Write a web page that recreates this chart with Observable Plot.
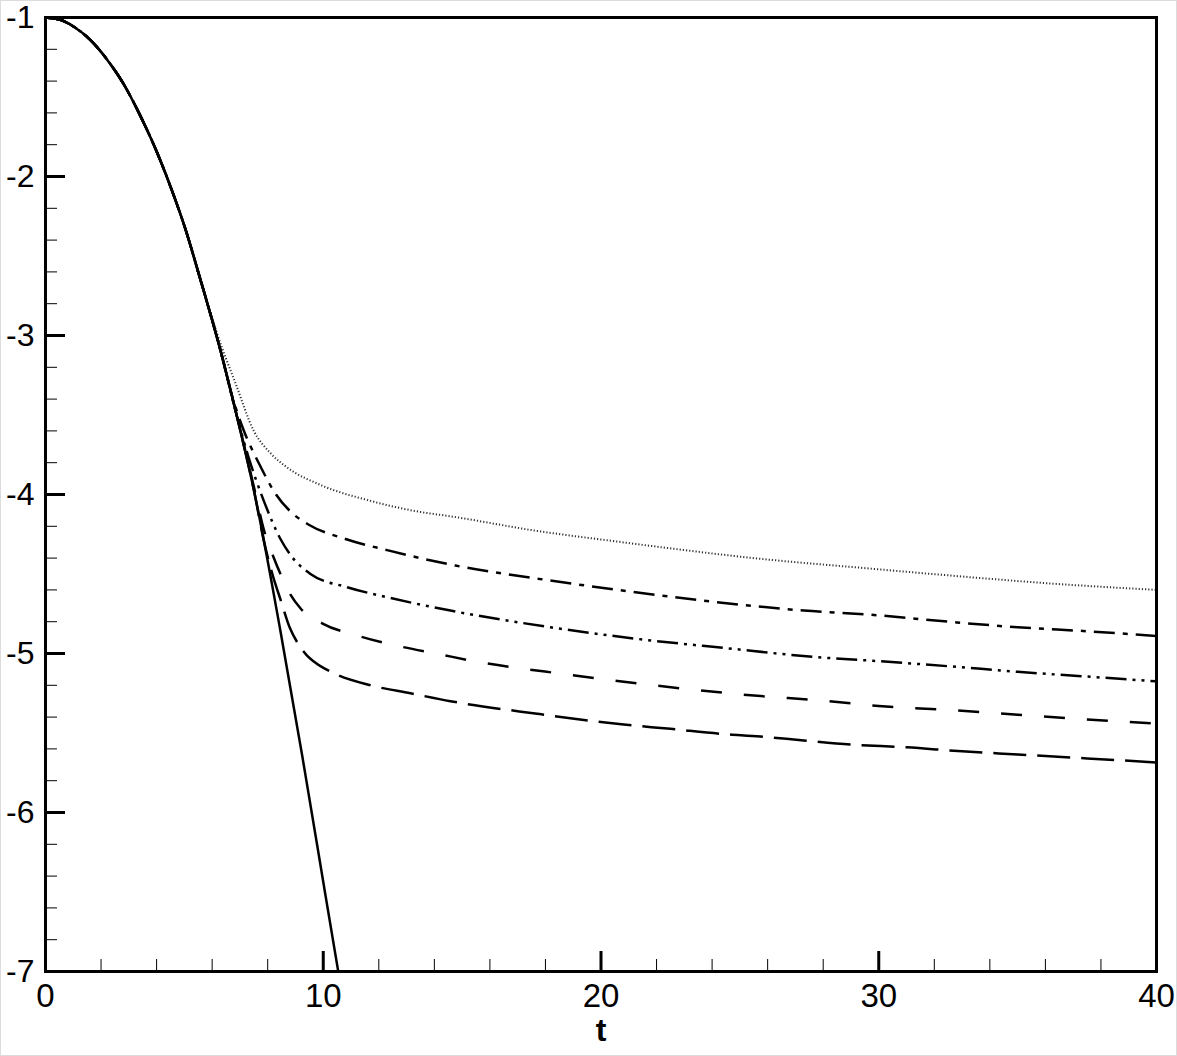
<!DOCTYPE html>
<html>
<head>
<meta charset="utf-8">
<script src="https://cdn.jsdelivr.net/npm/d3@7"></script>
<script src="https://cdn.jsdelivr.net/npm/@observablehq/plot@0.6"></script>
<style>
  html, body { margin: 0; padding: 0; background: #fff; }
  #chart { position: absolute; left: 0; top: 0; }
  #edge { position: absolute; left: 0; top: 0; width: 1175px; height: 1054px; border: 1px solid #dcdcdc; pointer-events: none; }
</style>
</head>
<body>
<div id="chart"></div>
<div id="edge"></div>
<script>
// ---- data ----
const tSolid = [0,0.5,1.02,1.62,2.22,2.82,3.42,4.02,4.62,5.0,5.58,6.3,6.9,7.5,8.46,9.24,10.08,10.54];
const vSolid = [-1,-1.013,-1.058,-1.142,-1.265,-1.42,-1.62,-1.85,-2.12,-2.31,-2.65,-3.094,-3.514,-3.97,-4.86,-5.64,-6.52,-7.0];

const tDotted = [0,0.5,1.02,1.62,2.22,2.82,3.42,4.02,4.62,5.0,5.58,6.2,6.84,7.5,8.1,8.7,9.9,11.7,13.5,14.58,17.58,20.58,22.14,25.38,29.63,32.6,36.2,40];
const vDotted = [-1,-1.013,-1.058,-1.142,-1.265,-1.42,-1.62,-1.85,-2.12,-2.31,-2.645,-3.0,-3.30,-3.60,-3.74,-3.83,-3.94,-4.04,-4.11,-4.137,-4.226,-4.296,-4.331,-4.398,-4.465,-4.51,-4.56,-4.60];

const tDashDot = [0,0.5,1.02,1.62,2.22,2.82,3.42,4.02,4.62,5.0,5.58,6.3,6.75,7.1,7.7,8.3,8.9,9.48,10.8,12.3,14.76,18.18,20.94,24.18,27.3,29.63,32.5,35,37.5,40];
const vDashDot = [-1,-1.013,-1.058,-1.142,-1.265,-1.42,-1.62,-1.85,-2.12,-2.31,-2.65,-3.094,-3.40,-3.58,-3.81,-4.0,-4.12,-4.19,-4.28,-4.35,-4.447,-4.541,-4.608,-4.677,-4.73,-4.755,-4.80,-4.835,-4.86,-4.89];

const tDashDotDot = [0,0.5,1.02,1.62,2.22,2.82,3.42,4.02,4.62,5.0,5.58,6.3,6.9,7.3,7.86,8.46,8.82,9.54,10.86,12.3,14.58,18.18,21.3,24.54,27.78,29.63,32.5,35,37.5,40];
const vDashDotDot = [-1,-1.013,-1.058,-1.142,-1.265,-1.42,-1.62,-1.85,-2.12,-2.31,-2.65,-3.094,-3.514,-3.76,-4.04,-4.28,-4.38,-4.50,-4.583,-4.646,-4.73,-4.835,-4.908,-4.967,-5.023,-5.044,-5.08,-5.115,-5.145,-5.175];

const tDashed = [0,0.5,1.02,1.62,2.22,2.82,3.42,4.02,4.62,5.0,5.58,6.3,6.9,7.5,7.86,8.2,8.46,8.82,9.2,9.96,11.28,12.78,14.22,15.3,18.78,21.89,25.08,28.32,30,32.5,35,37.5,40];
const vDashed = [-1,-1.013,-1.058,-1.142,-1.265,-1.42,-1.62,-1.85,-2.12,-2.31,-2.65,-3.094,-3.514,-3.95,-4.22,-4.39,-4.50,-4.63,-4.72,-4.81,-4.89,-4.956,-5.006,-5.044,-5.132,-5.20,-5.258,-5.302,-5.33,-5.355,-5.385,-5.415,-5.44];

const tLongDash = [0,0.5,1.02,1.62,2.22,2.82,3.42,4.02,4.62,5.0,5.58,6.3,6.9,7.5,7.86,8.2,8.46,8.8,9.1,9.4,9.66,10.38,11.7,13.14,14.58,17.7,20.82,22.5,24.3,25.74,27.3,28.98,31,33,35,37.5,40];
const vLongDash = [-1,-1.013,-1.058,-1.142,-1.265,-1.42,-1.62,-1.85,-2.12,-2.31,-2.65,-3.094,-3.514,-3.97,-4.29,-4.52,-4.66,-4.84,-4.94,-5.01,-5.05,-5.124,-5.20,-5.25,-5.30,-5.379,-5.447,-5.474,-5.505,-5.522,-5.547,-5.572,-5.59,-5.615,-5.635,-5.66,-5.685];

const xMajor = [0,10,20,30,40];
const xMinor = [2,4,6,8,12,14,16,18,22,24,26,28,32,34,36,38];
const yMajor = [-1,-2,-3,-4,-5,-6,-7];
const yMinor = [-1.2,-1.4,-1.6,-1.8,-2.2,-2.4,-2.6,-2.8,-3.2,-3.4,-3.6,-3.8,-4.2,-4.4,-4.6,-4.8,-5.2,-5.4,-5.6,-5.8,-6.2,-6.4,-6.6,-6.8];
const xTitle = "t";

// ---- build ----
const zip = (ts, vs) => ts.map((t, i) => ({t, v: vs[i]}));
const W = 1177, H = 1056;
const mL = 45, mR = 21, mT = 17, mB = 85;
const innerW = W - mL - mR, innerH = H - mT - mB;
const font = "'Liberation Sans', Arial, Helvetica, sans-serif";

const lineOpts = (extra) => Object.assign({x: "t", y: "v", curve: "monotone-x", stroke: "#000", strokeWidth: 2.5, strokeLinecap: "butt", strokeLinejoin: "round"}, extra);

const chart = Plot.plot({
  width: W, height: H,
  marginLeft: mL, marginRight: mR, marginTop: mT, marginBottom: mB,
  style: {fontFamily: font, background: "#fff", color: "#000"},
  x: {domain: [0, 40]},
  y: {domain: [-7, -1]},
  marks: [
    Plot.line(zip(tDotted, vDotted), lineOpts({stroke: "#333", strokeWidth: 2, strokeDasharray: "1.2,2", clip: true})),
    Plot.line(zip(tDashDot, vDashDot), lineOpts({strokeDasharray: "21,8,5,8", clip: true})),
    Plot.line(zip(tDashDotDot, vDashDotDot), lineOpts({strokeDasharray: "21,6,3,6,3,6", clip: true})),
    Plot.line(zip(tDashed, vDashed), lineOpts({strokeDasharray: "21,22", clip: true})),
    Plot.line(zip(tLongDash, vLongDash), lineOpts({strokeDasharray: "33,11", clip: true})),
    Plot.line(zip(tSolid, vSolid), lineOpts({clip: true})),
    // inward ticks
    Plot.tickX(xMajor, {x: d => d, insetTop: innerH - 20, stroke: "#000", strokeWidth: 3}),
    Plot.tickX(xMinor, {x: d => d, insetTop: innerH - 12, stroke: "#000", strokeWidth: 1}),
    Plot.tickY(yMajor, {y: d => d, insetRight: innerW - 20, stroke: "#000", strokeWidth: 3}),
    Plot.tickY(yMinor, {y: d => d, insetRight: innerW - 12, stroke: "#000", strokeWidth: 1}),
    Plot.axisX({ticks: xMajor, tickSize: 0, tickPadding: 12, fontSize: 33, label: null, tickFormat: d => `${d}`}),
    Plot.axisY({ticks: yMajor, tickSize: 0, tickPadding: 11, fontSize: 32, label: null, tickFormat: d => `${d}`}),
    Plot.text([xTitle], {text: d => d, frameAnchor: "bottom", lineAnchor: "top", dy: 47, fontSize: 32, fontWeight: "bold", fill: "#000"}),
    Plot.frame({stroke: "#000", strokeWidth: 3})
  ]
});
document.getElementById("chart").appendChild(chart);
</script>
</body>
</html>
